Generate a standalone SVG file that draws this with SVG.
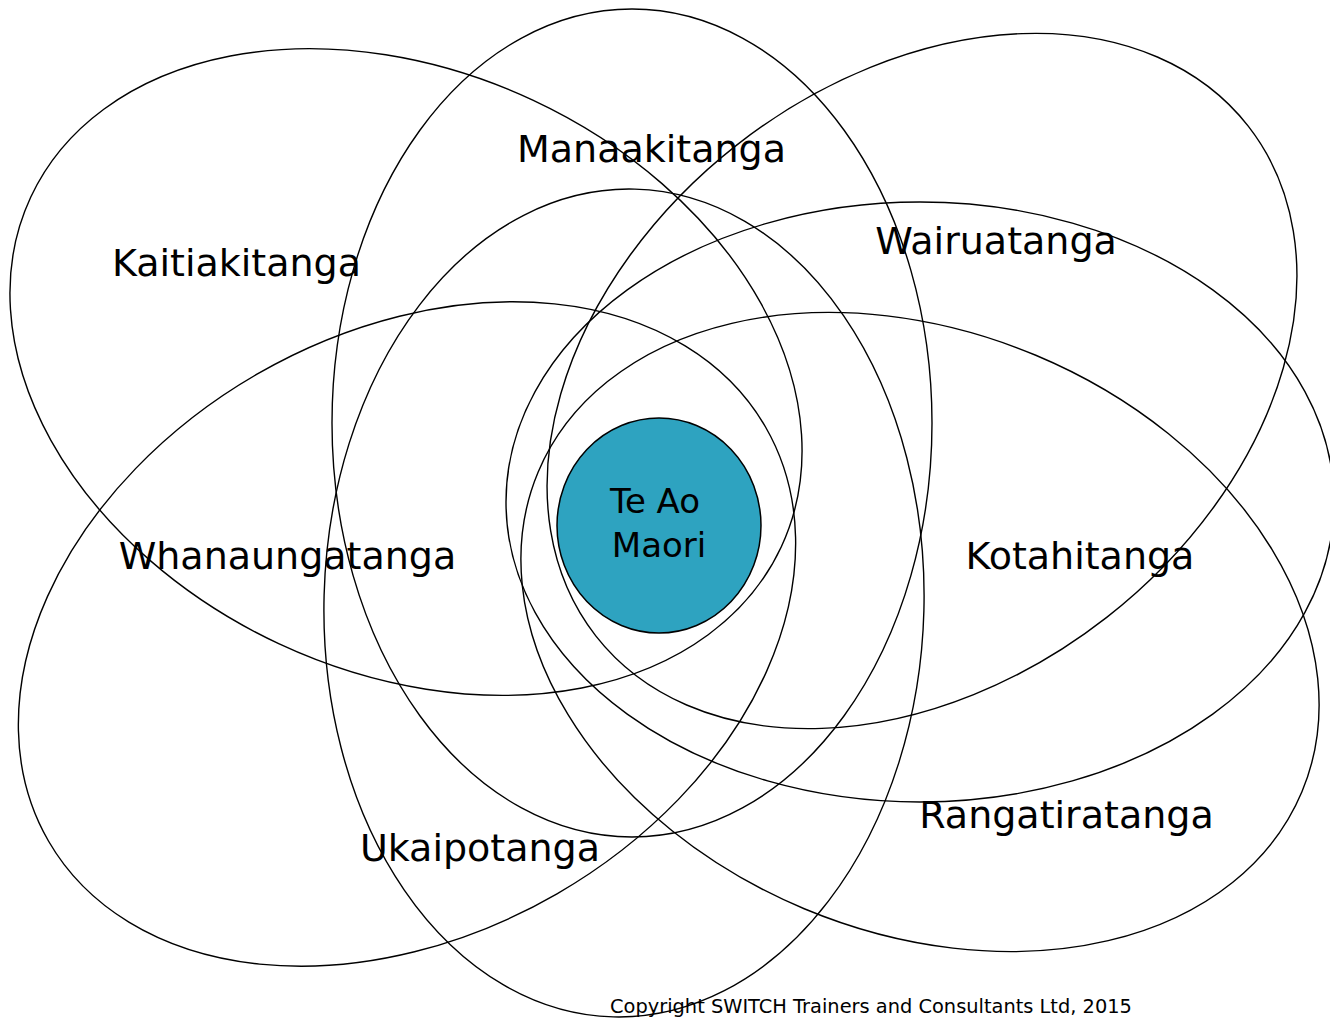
<svg xmlns="http://www.w3.org/2000/svg" width="1330" height="1018" viewBox="0 0 1330 1018">
  <style>
    .petal { fill: none; stroke: #000; stroke-width: 1.4; }
    .core { fill: #2EA3C0; stroke: #000; stroke-width: 1.5; }
    .label { font-family: "DejaVu Sans", "Liberation Sans", sans-serif; font-size: 38px; fill: #000; text-anchor: middle; }
    .core-label { font-family: "DejaVu Sans", "Liberation Sans", sans-serif; font-size: 34px; fill: #000; text-anchor: middle; }
    .credit { font-family: "DejaVu Sans", "Liberation Sans", sans-serif; font-size: 19.4px; fill: #000; }
  </style>
  <rect width="1330" height="1018" fill="#fff"/>

  <!-- overlapping value ellipses, all the same size, rotated about their centres -->
  <g id="edges">
    <g id="kaitiakitanga" transform="translate(406,372) rotate(25)">
      <ellipse class="petal" cx="0" cy="0" rx="414" ry="300"/>
    </g>
    <g id="whanaungatanga" transform="translate(407,634) rotate(-30)">
      <ellipse class="petal" cx="0" cy="0" rx="414" ry="300"/>
    </g>
    <g id="manaakitanga" transform="translate(632,423)">
      <ellipse class="petal" cx="0" cy="0" rx="300" ry="414"/>
    </g>
    <g id="ukaipotanga" transform="translate(624,603) rotate(1.5)">
      <ellipse class="petal" cx="0" cy="0" rx="300" ry="414"/>
    </g>
    <g id="wairuatanga" transform="translate(922,381) rotate(-38)">
      <ellipse class="petal" cx="0" cy="0" rx="414" ry="300"/>
    </g>
    <g id="kotahitanga" transform="translate(920,502)">
      <ellipse class="petal" cx="0" cy="0" rx="414" ry="300"/>
    </g>
    <g id="rangatiratanga" transform="translate(920,632) rotate(22.7)">
      <ellipse class="petal" cx="0" cy="0" rx="414" ry="300"/>
    </g>
  </g>

  <!-- centre -->
  <g id="te-ao-maori">
    <ellipse class="core" cx="659" cy="525.5" rx="102" ry="107.5"/>
    <text class="core-label" x="655" y="513">Te Ao</text>
    <text class="core-label" x="659" y="557">Maori</text>
  </g>

  <!-- labels -->
  <g id="labels">
    <text class="label" x="651.5" y="162">Manaakitanga</text>
    <text class="label" x="236.5" y="276">Kaitiakitanga</text>
    <text class="label" x="996" y="254">Wairuatanga</text>
    <text class="label" x="287.5" y="569">Whanaungatanga</text>
    <text class="label" x="1080" y="569">Kotahitanga</text>
    <text class="label" x="1066.5" y="828">Rangatiratanga</text>
    <text class="label" x="480" y="861">Ukaipotanga</text>
  </g>

  <text id="credit" class="credit" x="610" y="1013">Copyright SWITCH Trainers and Consultants Ltd, 2015</text>
</svg>
